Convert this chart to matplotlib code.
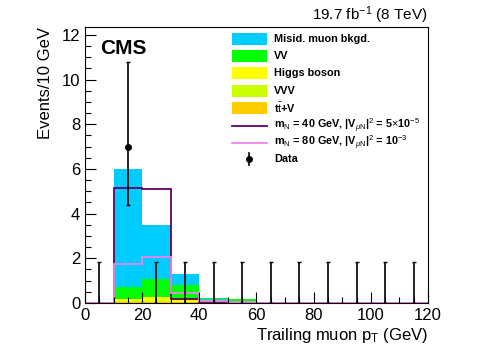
import numpy as np
import matplotlib.pyplot as plt
from matplotlib.patches import Rectangle
from matplotlib.lines import Line2D
from matplotlib.ticker import MultipleLocator

plt.rcParams['font.family'] = ['Liberation Sans', 'DejaVu Sans']
plt.rcParams['mathtext.fontset'] = 'custom'
plt.rcParams['mathtext.rm'] = 'Liberation Sans'
plt.rcParams['mathtext.it'] = 'Liberation Sans:italic'
plt.rcParams['mathtext.bf'] = 'Liberation Sans:bold'

# bins of trailing muon pT, 10 GeV wide
edges = np.arange(0, 130, 10)

# stacked backgrounds (bottom to top)
ttv = [0, 0.05, 0.06, 0.04, 0.01, 0.01, 0, 0, 0, 0, 0, 0]
vvv = [0, 0.02, 0.03, 0.02, 0.01, 0, 0, 0, 0, 0, 0, 0]
higgs = [0, 0.12, 0.16, 0.08, 0.02, 0.02, 0, 0, 0, 0, 0, 0]
vv = [0, 0.51, 0.81, 0.66, 0.12, 0.14, 0, 0.06, 0, 0, 0, 0]
misid = [0, 5.30, 2.44, 0.50, 0.05, 0, 0, 0, 0, 0, 0, 0]

# signal hypotheses
sig40 = [0, 5.15, 5.10, 0.20, 0.04, 0.02, 0, 0, 0, 0, 0, 0]
sig80 = [0, 1.75, 2.07, 0.45, 0.08, 0.04, 0, 0, 0, 0, 0, 0]

# data with asymmetric (Poisson) errors
data = [0, 7, 0, 0, 0, 0, 0, 0, 0, 0, 0, 0]
err_lo = [0, 2.6, 0, 0, 0, 0, 0, 0, 0, 0, 0, 0]
err_hi = [1.84, 3.8, 1.84, 1.84, 1.84, 1.84, 1.84, 1.84, 1.84, 1.84, 1.84, 1.84]

bkg_names = ["t$\\bar{\\rm t}$+V", "VVV", "Higgs boson", "VV", "Misid. muon bkgd."]
bkg_vals = [ttv, vvv, higgs, vv, misid]
bkg_cols = ["#ffcc00", "#ccff00", "#ffff00", "#00ff00", "#00ccff"]
sig_names = ["m$_{\\rm N}$ = 40 GeV, |V$_{\\mu\\rm N}$|$^{2}$ = 5$\\times$10$^{-5}$",
             "m$_{\\rm N}$ = 80 GeV, |V$_{\\mu\\rm N}$|$^{2}$ = 10$^{-3}$"]
sig_cols = ["#660066", "#ee82ee"]

W, H = 498, 358
fig = plt.figure(figsize=(W / 100, H / 100), dpi=100)
ax = fig.add_axes([0.1707, 0.1536, 0.6887, 0.771])

bottom = np.zeros(len(edges) - 1)
for vals, col in zip(bkg_vals, bkg_cols):
    vals = np.array(vals)
    ax.stairs(bottom + vals, edges, baseline=bottom, fill=True, color=col, lw=0)
    bottom = bottom + vals

for vals, col in zip([sig40, sig80], sig_cols):
    ax.stairs(vals, edges, color=col, lw=1.3, baseline=0)

centers = (edges[:-1] + edges[1:]) / 2
ax.errorbar(centers, data, yerr=[err_lo, err_hi], fmt='none', ecolor='black',
            elinewidth=1.2, capsize=1.2)
d = np.array(data)
ax.plot(centers[d > 0], d[d > 0], 'o', color='black', ms=4)

ax.set_xlim(0, 120)
ax.set_ylim(0, 12.35)
ax.xaxis.set_major_locator(MultipleLocator(20))
ax.xaxis.set_minor_locator(MultipleLocator(5))
ax.yaxis.set_major_locator(MultipleLocator(2))
ax.yaxis.set_minor_locator(MultipleLocator(0.5))
ax.tick_params(which='both', direction='in', labelsize=12, width=0.8)
ax.tick_params(which='major', length=8)
ax.tick_params(which='minor', length=4)
for s in ax.spines.values():
    s.set_linewidth(0.8)

ax.set_xlabel("Trailing muon p$_{\\rm T}$ (GeV)", fontsize=12, loc='right', labelpad=2)
ax.set_ylabel("Events/10 GeV", fontsize=12, loc='top', labelpad=6)
ax.set_title("19.7 fb$^{-1}$ (8 TeV)", fontsize=11, loc='right', pad=5)
ax.text(0.045, 0.955, "CMS", transform=ax.transAxes, fontsize=15, fontweight='bold',
        va='top', ha='left')

# legend, laid out in figure pixels
rows = [39, 56, 73, 91, 108, 126, 143, 159]
x0, x1, xt = 232, 267, 274
fx = lambda px: px / W
fy = lambda py: 1 - py / H
lab_kw = dict(fontsize=7.8, fontweight='bold', va='center', ha='left')
entries = list(zip(bkg_names[::-1], bkg_cols[::-1]))
for (name, col), r in zip(entries, rows):
    fig.patches.append(Rectangle((fx(x0), fy(r + 6)), fx(x1) - fx(x0), 12 / H,
                                 transform=fig.transFigure, color=col, lw=0))
    fig.text(fx(xt), fy(r), name, **lab_kw)
for (name, col), r in zip(zip(sig_names, sig_cols), rows[5:7]):
    fig.lines.append(Line2D([fx(x0), fx(x1)], [fy(r), fy(r)], transform=fig.transFigure,
                            color=col, lw=1.3))
    fig.text(fx(xt), fy(r), name, **lab_kw)
r = rows[7]
fig.lines.append(Line2D([fx(249), fx(249)], [fy(r - 6), fy(r + 6)], transform=fig.transFigure,
                        color='black', lw=1.2))
fig.lines.append(Line2D([fx(249)], [fy(r)], transform=fig.transFigure, marker='o',
                        color='black', ms=4))
fig.text(fx(xt), fy(r), "Data", **lab_kw)

fig.savefig("out.png", dpi=100)
